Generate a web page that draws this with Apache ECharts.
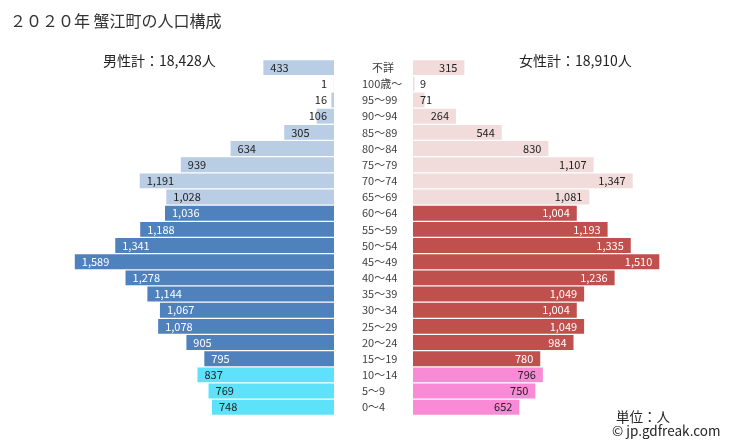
<!DOCTYPE html>
<html><head><meta charset="utf-8">
<script src="https://cdn.jsdelivr.net/npm/echarts@6/dist/echarts.min.js"></script>
<style>html,body{margin:0;padding:0;background:#fff}#c{width:729px;height:446px}</style>
</head><body><div id="c"></div>
<script>
const categories = ['不詳','100歳～','95～99','90～94','85～89','80～84','75～79','70～74','65～69','60～64','55～59','50～54','45～49','40～44','35～39','30～34','25～29','20～24','15～19','10～14','5～9','0～4'];
const male = [433,1,16,106,305,634,939,1191,1028,1036,1188,1341,1589,1278,1144,1067,1078,905,795,837,769,748];
const female = [315,9,71,264,544,830,1107,1347,1081,1004,1193,1335,1510,1236,1049,1004,1049,984,780,796,750,652];
const maleTotal = '男性計：18,428人';
const femaleTotal = '女性計：18,910人';
const title = '２０２０年 蟹江町の人口構成';

const FONT = '"Noto Sans CJK JP","Noto Sans",sans-serif';
function tier(i){ return i <= 8 ? 0 : (i <= 18 ? 1 : 2); }
const maleColors = ['#b9cde5','#4f81bd','#5de2f9'];
const femaleColors = ['#f2dcdb','#c0504d','#f98ad6'];
const labelColors = ['#222','#fff','#222'];
const fmt = v => v.toLocaleString('en-US');

const maleData = male.map((v,i)=>({
  value: v,
  itemStyle:{color: maleColors[tier(i)]},
  label:{
    position: v < 200 ? 'insideRight' : 'insideLeft',
    color: v < 200 ? '#222' : labelColors[tier(i)]
  }
}));
const femaleData = female.map((v,i)=>({
  value: v,
  itemStyle:{color: femaleColors[tier(i)]},
  label:{
    position: v < 200 ? 'insideLeft' : 'insideRight',
    color: v < 200 ? '#222' : labelColors[tier(i)]
  }
}));

const chart = echarts.init(document.getElementById('c'), null, {renderer:'canvas'});
chart.setOption({
  animation:false,
  textStyle:{fontFamily:FONT},
  title:{text:title,left:5,top:8,textStyle:{fontSize:16,fontWeight:'normal',color:'#333',fontFamily:FONT}},
  graphic:[
    {type:'text',left:103,top:54,style:{text:maleTotal,fill:'#222',font:'14px '+FONT}},
    {type:'text',left:519,top:54,style:{text:femaleTotal,fill:'#222',font:'14px '+FONT}},
    {type:'text',left:616,top:410,style:{text:'単位：人',fill:'#222',font:'13.5px '+FONT}},
    {type:'text',left:612,top:424,style:{text:'© jp.gdfreak.com',fill:'#222',font:'13.5px '+FONT}}
  ],
  grid:[
    {left:73,width:261,top:59.6,height:355.7},
    {left:413,width:261,top:59.6,height:355.7}
  ],
  xAxis:[
    {gridIndex:0,type:'value',min:0,max:1600,inverse:true,show:false},
    {gridIndex:1,type:'value',min:0,max:1600,show:false}
  ],
  yAxis:[
    {gridIndex:0,type:'category',data:categories,inverse:true,position:'right',
     axisLine:{show:false},axisTick:{show:false},
     axisLabel:{align:'left',margin:28,fontSize:11,color:'#404040',fontFamily:FONT,
       formatter:(v)=> v==='不詳' ? '{a|不詳}' : v,
       rich:{a:{fontSize:11,color:'#404040',padding:[0,0,0,10],fontFamily:FONT}}}},
    {gridIndex:1,type:'category',data:categories,inverse:true,show:false}
  ],
  series:[
    {type:'bar',xAxisIndex:0,yAxisIndex:0,data:maleData,barCategoryGap:'8%',
     label:{show:true,distance:7,fontSize:11,fontFamily:FONT,formatter:p=>fmt(p.value)}},
    {type:'bar',xAxisIndex:1,yAxisIndex:1,data:femaleData,barCategoryGap:'8%',
     label:{show:true,distance:7,fontSize:11,fontFamily:FONT,formatter:p=>fmt(p.value)}}
  ]
});
</script></body></html>
